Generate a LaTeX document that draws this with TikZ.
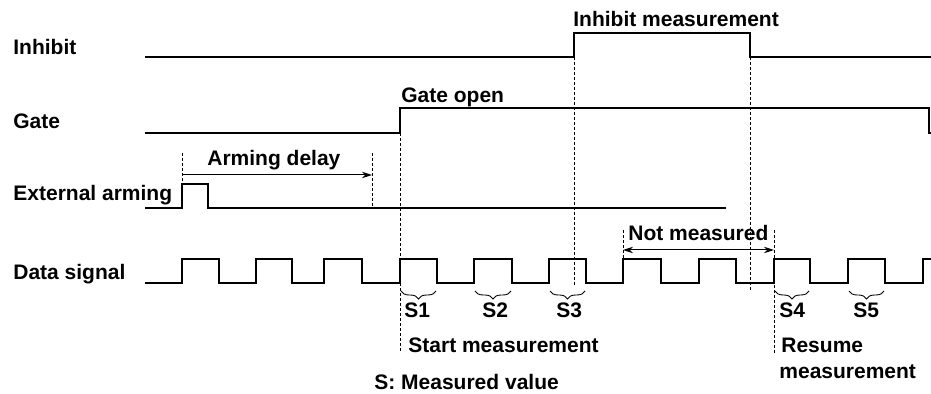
\documentclass[tikz,border=0pt]{standalone}
\usepackage{fontspec}
\setmainfont{Liberation Sans}
\usetikzlibrary{arrows.meta,decorations.pathreplacing}
\tikzset{
  sig/.style={line width=0.8pt, line join=miter},
  guide/.style={line width=0.45pt, dash pattern=on 1.5pt off 1pt},
  lbl/.style={anchor=base west, inner sep=0pt, font=\bfseries\fontsize{10.5}{12.6}\selectfont},
  dim/.style={line width=0.5pt},
  brc/.style={line width=0.45pt, decorate, decoration={brace, mirror, amplitude=4pt}},
}
\begin{document}
\begin{tikzpicture}[x=0.5pt,y=-0.5pt]
\useasboundingbox (0,0) rectangle (931,394);
% signal labels
\node[lbl] (linh) at (13,55) {Inhibit};
\node[lbl] (lgate) at (13,129) {Gate};
\node[lbl] (larm) at (13,201) {External arming};
\node[lbl] (ldata) at (13,280) {Data signal};
% annotations
\node[lbl] (tinh) at (573,27) {Inhibit measurement};
\node[lbl] (tgate) at (401,103) {Gate open};
\node[lbl] (tdel) at (207,166) {Arming delay};
\node[lbl] (tnot) at (628,241) {Not measured};
\node[lbl] (tstart) at (408,353) {Start measurement};
\node[lbl] (tres1) at (781,353) {Resume};
\node[lbl] (tres2) at (779,379) {measurement};
\node[lbl] (tmv) at (374,390) {S: Measured value};
% signals
\draw[sig] (145,57) -- (574,57) -- (574,33) -- (750,33) -- (750,57) -- (931,57);
\draw[sig] (145,133) -- (400,133) -- (400,108) -- (929,108) -- (929,133) -- (931,133);
\draw[sig] (145,208) -- (182,208) -- (182,184) -- (208,184) -- (208,208) -- (726,208);
\draw[sig] (145,283) -- (182,283) -- (182,259) -- (219,259) -- (219,283) -- (256,283) -- (256,259) -- (292,259) -- (292,283) -- (324,283) -- (324,259) -- (362,259) -- (362,283) -- (400,283) -- (400,259) -- (437,259) -- (437,283) -- (474,283) -- (474,259) -- (512,259) -- (512,283) -- (549,283) -- (549,259) -- (586,259) -- (586,283) -- (623,283) -- (623,259) -- (661,259) -- (661,283) -- (699,283) -- (699,259) -- (736,259) -- (736,283) -- (774,283) -- (774,259) -- (810,259) -- (810,283) -- (848,283) -- (848,259) -- (885,259) -- (885,283) -- (923,283) -- (923,259) -- (931,259);
% guide lines
\coordinate (a1) at (182,153); \coordinate (a2) at (182,184);
\coordinate (b1) at (372,153); \coordinate (b2) at (372,208);
\draw[guide] (a1) -- (a2);
\draw[guide] (b1) -- (b2);
\draw[guide] (400,133) -- (400,351);
\draw[guide] (574,57) -- (574,285);
\draw[guide] (750,57) -- (750,291);
\draw[guide] (623,230) -- (623,259);
\draw[guide] (774,230) -- (774,354);
% dimension arrows
\coordinate (d1) at (182,175); \coordinate (d2) at (372,175);
\draw[dim, -{Stealth[length=5pt,width=3.2pt]}] (d1) -- (d2);
\coordinate (n1) at (623,250); \coordinate (n2) at (774,250);
\draw[dim, {Stealth[length=5pt,width=3.2pt]}-{Stealth[length=5pt,width=3.2pt]}] (n1) -- (n2);
% braces
\draw[brc] (401,291) -- (436,291);
\draw[brc] (475,291) -- (511,291);
\draw[brc] (550,291) -- (585,291);
\draw[brc] (775,291) -- (809,291);
\draw[brc] (849,291) -- (884,291);
\node[lbl] (s1) at (404,318) {S1};
\node[lbl] (s2) at (482,318) {S2};
\node[lbl] (s3) at (556,318) {S3};
\node[lbl] (s4) at (779,318) {S4};
\node[lbl] (s5) at (853,318) {S5};
\end{tikzpicture}
\end{document}
